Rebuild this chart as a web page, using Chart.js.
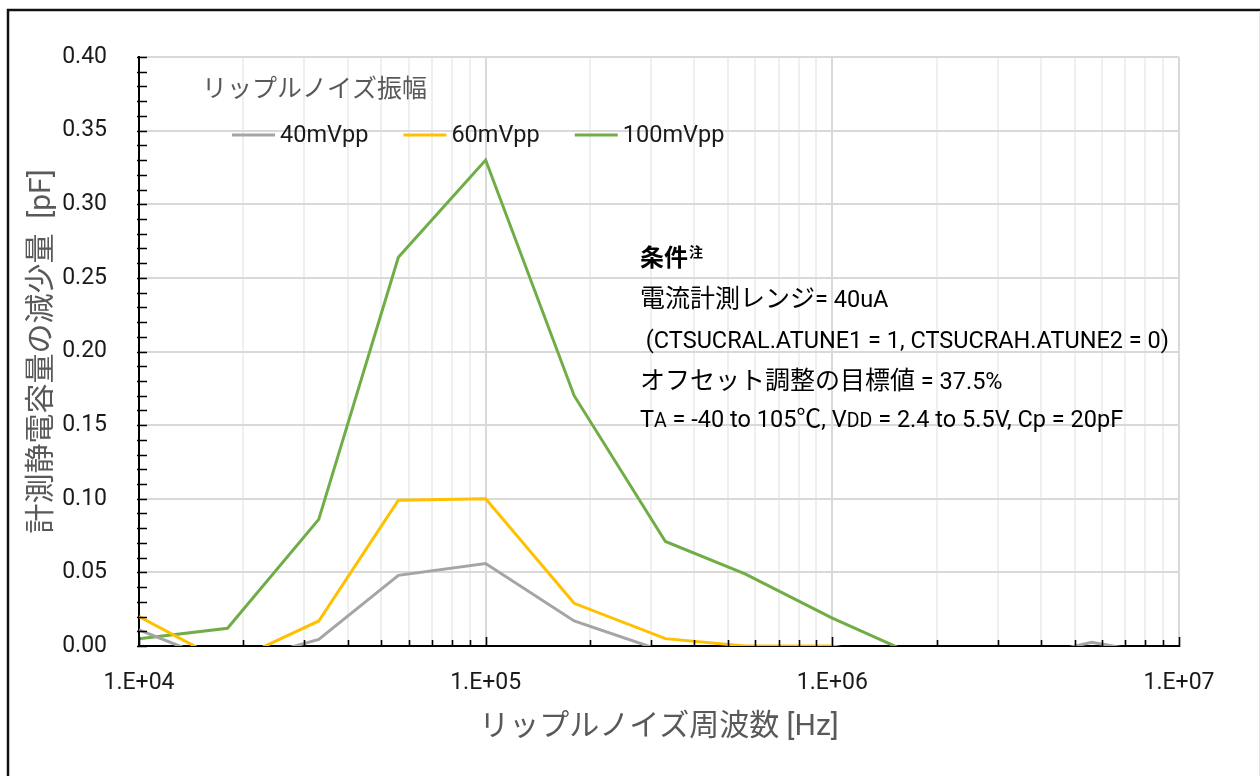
<!DOCTYPE html>
<html lang="ja">
<head>
<meta charset="utf-8">
<title>リップルノイズ周波数と計測静電容量の減少量</title>
<script src="https://cdn.jsdelivr.net/npm/chart.js@4.4.1/dist/chart.umd.min.js"></script>
<style>
  html, body { margin: 0; padding: 0; background: #ffffff; }
  canvas { display: block; }
</style>
</head>
<body>
<canvas id="chart" width="1260" height="776"></canvas>
<script>
// Ripple noise frequency sweep [Hz]
const frequencies = [1e4, 1.8e4, 3.3e4, 5.6e4, 1e5, 1.8e5, 3.3e5, 5.6e5, 1e6, 1.8e6, 3.3e6, 5.6e6, 1e7];

// Decrease of the measured capacitance [pF] for each ripple amplitude
const amp40mVpp  = [0.011, -0.013, 0.0045, 0.048, 0.056, 0.017, -0.004, -0.010, -0.012, -0.012, -0.010, 0.0025, -0.008];
const amp60mVpp  = [0.020, -0.012, 0.017, 0.099, 0.100, 0.029, 0.005, 0.000, 0.000, -0.010, -0.010, -0.010, -0.010];
const amp100mVpp = [0.005, 0.012, 0.086, 0.264, 0.330, 0.170, 0.071, 0.049, 0.019, -0.008, -0.010, -0.010, -0.010];

const seriesLabels = ['40mVpp', '60mVpp', '100mVpp'];
const seriesColors = ['#A5A5A5', '#FFC000', '#70AD47'];

const legendTitle = 'リップルノイズ振幅';
const xAxisTitle = 'リップルノイズ周波数 [Hz]';
const yAxisTitle = '計測静電容量の減少量  [pF]';

// Axis ranges
const xMin = 1e4, xMax = 1e7;
const yMin = 0, yMax = 0.40, yStep = 0.05, yMinorStep = 0.01;

// Measurement conditions block
const noteHeading = '条件';
const noteMark = '注';
const noteLines = [
  [['電流計測レンジ', ''], ['= 40uA', '']],
  [[' (CTSUCRAL.ATUNE1 = 1, CTSUCRAH.ATUNE2 = 0)', '']],
  [['オフセット調整の目標値', ''], [' = 37.5%', '']],
  [['T', ''], ['A', 'sub'], [' = -40 to 105', ''], ['℃', ''], [', V', ''], ['DD', 'sub'], [' = 2.4 to 5.5V, Cp = 20pF', '']]
];

const LATIN = 'Roboto, "Noto Sans CJK JP", sans-serif';
const CJK = '"Noto Sans CJK JP", Roboto, sans-serif';
const MIXED = 'Roboto, "Noto Sans CJK JP", sans-serif';

// Log-scale grid positions: 1..9 x 10^n inside the range
const xGridValues = [];
for (let e = Math.log10(xMin); e < Math.log10(xMax); e++) {
  for (let m = 1; m <= 9; m++) xGridValues.push(m * Math.pow(10, e));
}
xGridValues.push(xMax);

const isDecade = v => Math.abs(Math.log10(v) - Math.round(Math.log10(v))) < 1e-9;

function decadeLabel(v) {
  const e = Math.round(Math.log10(v));
  return '1.E+' + String(e).padStart(2, '0');
}

const isCjk = ch => /[\u2103\u3000-\u30ff\u3400-\u9fff\uff00-\uffef]/.test(ch);

// Draws text, switching to a slightly larger size for Japanese characters
function drawMixed(ctx, text, x, y, latinPx, cjkPx, weight) {
  let run = '';
  let runCjk = null;
  const flush = () => {
    if (!run) return;
    ctx.font = `${weight || ''} ${runCjk ? cjkPx : latinPx}px ${runCjk ? CJK : LATIN}`;
    ctx.fillText(run, x, y);
    x += ctx.measureText(run).width;
    run = '';
  };
  for (const ch of text) {
    const c = isCjk(ch);
    if (runCjk !== null && c !== runCjk) flush();
    runCjk = c;
    run += ch;
  }
  flush();
  return x;
}

const framePlugin = {
  id: 'frame',
  beforeDraw(chart) {
    const ctx = chart.ctx;
    ctx.save();
    ctx.fillStyle = '#ffffff';
    ctx.fillRect(0, 0, chart.width, chart.height);
    ctx.strokeStyle = '#111111';
    ctx.lineWidth = 2.5;
    ctx.strokeRect(8, 10, 1400, 1000);
    ctx.strokeStyle = '#e4e4e4';
    ctx.lineWidth = 1;
    ctx.beginPath();
    ctx.moveTo(1259.5, 11);
    ctx.lineTo(1259.5, chart.height);
    ctx.stroke();
    ctx.restore();
  }
};

// Inward tick marks on both axes
const tickMarksPlugin = {
  id: 'innerTicks',
  afterDraw(chart) {
    const { ctx, chartArea } = chart;
    const xs = chart.scales.x, ys = chart.scales.y;
    ctx.save();
    ctx.strokeStyle = '#000000';
    ctx.lineWidth = 1.6;
    ctx.beginPath();
    const steps = Math.round((yMax - yMin) / yMinorStep);
    for (let i = 0; i <= steps; i++) {
      const py = Math.round(ys.getPixelForValue(yMin + i * yMinorStep)) + 0.5;
      ctx.moveTo(chartArea.left - 2, py);
      ctx.lineTo(chartArea.left + 8, py);
    }
    xGridValues.forEach(v => {
      const px = Math.round(xs.getPixelForValue(v)) + 0.5;
      const len = isDecade(v) ? 9 : 6;
      ctx.moveTo(px, chartArea.bottom + 1);
      ctx.lineTo(px, chartArea.bottom - len);
    });
    ctx.stroke();
    ctx.restore();
  }
};

// Legend placed inside the plot area, with its own title
const insideLegendPlugin = {
  id: 'insideLegend',
  afterDraw(chart) {
    const ctx = chart.ctx;
    ctx.save();
    ctx.textBaseline = 'middle';
    ctx.textAlign = 'left';
    ctx.fillStyle = '#595959';
    ctx.font = `25px ${CJK}`;
    ctx.fillText(legendTitle, 202, 87);
    let x = 232;
    const y = 135;
    chart.data.datasets.forEach(ds => {
      ctx.strokeStyle = ds.borderColor;
      ctx.lineWidth = 3;
      ctx.beginPath();
      ctx.moveTo(x, y);
      ctx.lineTo(x + 43, y);
      ctx.stroke();
      ctx.fillStyle = '#1a1a1a';
      ctx.font = `23.5px ${LATIN}`;
      ctx.fillText(ds.label, x + 48, y + 1);
      x += 48 + ctx.measureText(ds.label).width + 35;
    });
    ctx.restore();
  }
};

// Measurement conditions text block
const notePlugin = {
  id: 'conditions',
  afterDraw(chart) {
    const ctx = chart.ctx;
    ctx.save();
    ctx.textBaseline = 'alphabetic';
    ctx.textAlign = 'left';
    ctx.fillStyle = '#000000';
    let x = drawMixed(ctx, noteHeading, 640, 266, 23, 24, 'bold');
    ctx.font = `bold 14px ${CJK}`;
    ctx.fillText(noteMark, x + 1, 257);
    const baselines = [307, 348, 389, 427];
    noteLines.forEach((runs, i) => {
      let cx = 640;
      runs.forEach(([text, kind]) => {
        if (kind === 'sub') {
          cx = drawMixed(ctx, text, cx, baselines[i], 19.5, 19.5);
        } else {
          cx = drawMixed(ctx, text, cx, baselines[i], 23.5, 25);
        }
      });
    });
    ctx.restore();
  }
};

const datasets = [amp40mVpp, amp60mVpp, amp100mVpp].map((values, i) => ({
  label: seriesLabels[i],
  data: frequencies.map((f, j) => ({ x: f, y: values[j] })),
  borderColor: seriesColors[i],
  backgroundColor: seriesColors[i],
  borderWidth: 3,
  pointRadius: 0,
  pointHoverRadius: 0,
  tension: 0,
  fill: false
}));

new Chart(document.getElementById('chart'), {
  type: 'line',
  data: { datasets },
  options: {
    responsive: false,
    animation: false,
    events: [],
    layout: { padding: { left: 0, top: 57, right: 81, bottom: 0 } },
    plugins: {
      legend: { display: false },
      tooltip: { enabled: false },
      title: { display: false }
    },
    scales: {
      x: {
        type: 'logarithmic',
        min: xMin,
        max: xMax,
        afterFit(scale) { scale.height = 130; },
        afterBuildTicks(scale) {
          scale.ticks = xGridValues.map(v => ({ value: v, major: isDecade(v) }));
        },
        ticks: {
          autoSkip: false,
          maxRotation: 0,
          padding: 23,
          color: '#1a1a1a',
          font: { family: LATIN, size: 23 },
          callback: v => (isDecade(v) ? decadeLabel(v) : '')
        },
        grid: {
          drawTicks: false,
          lineWidth: 2,
          color: ctx => (ctx.tick && isDecade(ctx.tick.value) ? '#d9d9d9' : '#efefef')
        },
        border: { display: true, color: '#000000', width: 2 },
        title: {
          display: true,
          text: xAxisTitle,
          color: '#595959',
          font: { family: MIXED, size: 30 },
          padding: { top: 0, bottom: 31 }
        }
      },
      y: {
        min: yMin,
        max: yMax,
        afterFit(scale) { scale.width = 139; },
        ticks: {
          stepSize: yStep,
          padding: 32,
          color: '#1a1a1a',
          font: { family: LATIN, size: 23 },
          callback: v => Number(v).toFixed(2)
        },
        grid: {
          drawTicks: false,
          lineWidth: 2,
          color: '#d9d9d9'
        },
        border: { display: true, color: '#000000', width: 2 },
        title: {
          display: true,
          text: yAxisTitle,
          color: '#595959',
          font: { family: MIXED, size: 30 },
          padding: { top: 24, bottom: 0 }
        }
      }
    }
  },
  plugins: [framePlugin, tickMarksPlugin, insideLegendPlugin, notePlugin]
});
</script>
</body>
</html>
